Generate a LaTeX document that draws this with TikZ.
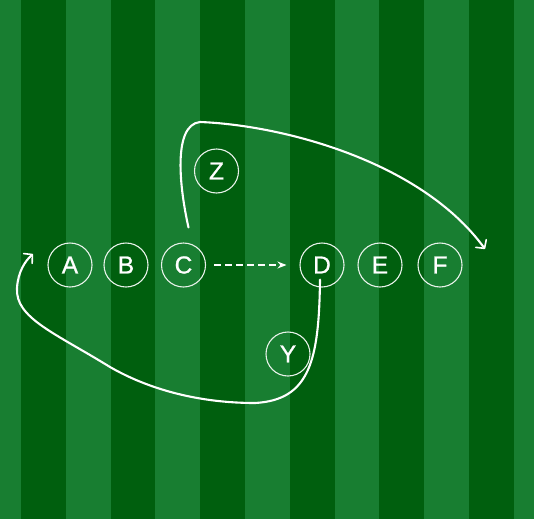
\documentclass[tikz,border=0pt]{standalone}
\usepackage{fontspec}
\setmainfont{Liberation Sans}
\newfontfamily\pfont[FakeBold=0.9]{Liberation Sans}
\usetikzlibrary{arrows.meta}
\definecolor{dk}{HTML}{005F0E}
\definecolor{lt}{HTML}{187E31}
\begin{document}
\begin{tikzpicture}[x=1pt,y=-1pt,
  player/.style={circle,draw=white!90!lt,line width=1.1pt,minimum size=44pt,inner sep=0pt,text=white,font=\pfont\fontsize{24.5}{24.5}\selectfont},
  route/.style={draw=white,line width=2.1pt,line cap=round},
  barb/.style={-{Straight Barb[length=6pt,width=13pt,line width=1.6pt,round]}}]
\fill[lt] (0,0) rectangle (534,519);
\foreach \i in {0,...,5} {\fill[dk] ({21+2*\i*44.8},0) rectangle ({21+(2*\i+1)*44.8},519);}
\useasboundingbox (0,0) rectangle (534,519);
\node[player] (A) at (70,265) {A};
\node[player] (B) at (126,265) {B};
\node[player] (C) at (183.5,265) {C};
\node[player] (D) at (322,265) {D};
\node[player] (E) at (380,265) {E};
\node[player] (F) at (440,265) {F};
\node[player] (Z) at (216.5,171) {Z};
\node[player] (Y) at (288,354) {Y};
\coordinate (zend) at (485,249);
\coordinate (aend) at (33,254);
\draw[white,line width=1.4pt,dash pattern=on 7pt off 4pt,shorten <=8pt,shorten >=13pt,-{Stealth[length=9pt,width=7pt]}] (C) -- (D);
\draw[route,barb] ([shift={(5,-15)}]C.north) .. controls (180,190) and (172,125) .. (200,122)
  .. controls (280,125) and (420,160) .. (zend);
\draw[route,barb] ([shift={(-2,-8)}]D.south) .. controls (319,360) and (310,400) .. (255,403)
  .. controls (200,403) and (150,390) .. (110,367)
  .. controls (55,333) and (15,318) .. (17,288)
  .. controls (18,272) and (25,261) .. (aend);
\end{tikzpicture}
\end{document}
